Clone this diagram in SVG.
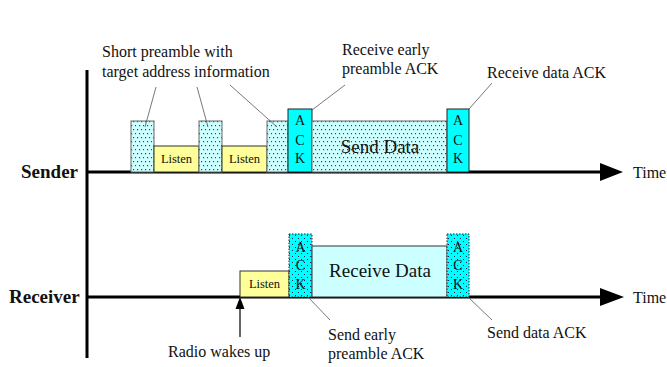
<svg xmlns="http://www.w3.org/2000/svg" width="667" height="367" viewBox="0 0 667 367">
  <style>
    text { font-family: "Liberation Serif", "Times New Roman", "DejaVu Serif", serif; fill: #111; }
    .lbl { font-size: 16px; }
    .axis-name { font-size: 19px; font-weight: bold; }
    .time { font-size: 16px; }
    .ack { font-size: 14px; text-anchor: middle; }
    .big { font-size: 19px; text-anchor: middle; }
    .small { font-size: 12.5px; text-anchor: middle; }
    .axis { stroke: #000; stroke-width: 3; fill: none; }
    .lead { stroke: #555; stroke-width: 0.8; fill: none; }
    .pre { fill: url(#dots); stroke: #666; stroke-width: 1; }
    .listen { fill: #ffff99; stroke: #333; stroke-width: 1; }
    .ackS { fill: #00ffff; stroke: #222; stroke-width: 1; }
    .ackR { fill: url(#dotsCyan); stroke: #222; stroke-width: 1; stroke-dasharray: 1.5 1.5; }
    .data { fill: #ccffff; stroke: #333; stroke-width: 1; }
  </style>
  <defs>
    <!-- staggered dot fill for preambles and outgoing data -->
    <pattern id="dots" width="8" height="8" patternUnits="userSpaceOnUse">
      <rect width="8" height="8" fill="#ccffff"/>
      <rect x="1" y="1" width="1.2" height="1.2" fill="#444"/>
      <rect x="5" y="1" width="1.2" height="1.2" fill="#444"/>
      <rect x="3" y="5" width="1.2" height="1.2" fill="#444"/>
      <rect x="7" y="5" width="1.2" height="1.2" fill="#444"/>
    </pattern>
    <pattern id="dotsCyan" width="6" height="6" patternUnits="userSpaceOnUse">
      <rect width="6" height="6" fill="#00ffff"/>
      <rect x="1" y="1" width="1" height="1" fill="#225"/>
      <rect x="4" y="4" width="1" height="1" fill="#225"/>
    </pattern>
  </defs>

  <!-- time axes -->
  <g id="axes">
    <line class="axis" x1="87" y1="70" x2="87" y2="358"/>
    <line class="axis" x1="87" y1="172" x2="602" y2="172"/>
    <polygon points="600,163 623,172 600,181" fill="#000"/>
    <line class="axis" x1="87" y1="297" x2="602" y2="297"/>
    <polygon points="600,288 624,297 600,306" fill="#000"/>
    <text class="axis-name" x="21" y="178">Sender</text>
    <text class="axis-name" x="9" y="303">Receiver</text>
    <text class="time" x="633" y="178">Time</text>
    <text class="time" x="633" y="303">Time</text>
  </g>

  <!-- sender timeline -->
  <g id="sender-preamble-1"><rect class="pre" x="131" y="121" width="23" height="51"/></g>
  <g id="sender-listen-1">
    <rect class="listen" x="154" y="146" width="45" height="26"/>
    <text class="small" x="176.5" y="163">Listen</text>
  </g>
  <g id="sender-preamble-2"><rect class="pre" x="199" y="121" width="23" height="51"/></g>
  <g id="sender-listen-2">
    <rect class="listen" x="222" y="146" width="45" height="26"/>
    <text class="small" x="244.5" y="163">Listen</text>
  </g>
  <g id="sender-preamble-3"><rect class="pre" x="267" y="121" width="21" height="51"/></g>
  <g id="sender-ack-1">
    <rect class="ackS" x="288" y="109" width="24" height="63"/>
    <text class="ack" x="300" y="125">A</text>
    <text class="ack" x="300" y="145">C</text>
    <text class="ack" x="300" y="163">K</text>
  </g>
  <g id="send-data">
    <rect class="pre" x="312" y="121" width="135" height="51"/>
    <text class="big" x="380" y="153">Send Data</text>
  </g>
  <g id="sender-ack-2">
    <rect class="ackS" x="447" y="109" width="22" height="63"/>
    <text class="ack" x="458" y="125">A</text>
    <text class="ack" x="458" y="145">C</text>
    <text class="ack" x="458" y="163">K</text>
  </g>

  <!-- receiver timeline -->
  <g id="receiver-listen">
    <rect class="listen" x="240" y="271" width="49" height="26"/>
    <text class="small" x="264.5" y="288">Listen</text>
  </g>
  <g id="receiver-ack-1">
    <rect class="ackR" x="289" y="234" width="23" height="63"/>
    <text class="ack" x="300.5" y="252">A</text>
    <text class="ack" x="300.5" y="270">C</text>
    <text class="ack" x="300.5" y="289">K</text>
  </g>
  <g id="receive-data">
    <rect class="data" x="312" y="246" width="135" height="51"/>
    <text class="big" x="380" y="277">Receive Data</text>
  </g>
  <g id="receiver-ack-2">
    <rect class="ackR" x="447" y="234" width="22" height="63"/>
    <text class="ack" x="458" y="252">A</text>
    <text class="ack" x="458" y="270">C</text>
    <text class="ack" x="458" y="289">K</text>
  </g>

  <!-- annotations -->
  <g id="note-preamble">
    <text class="lbl" x="102" y="57">Short preamble with</text>
    <text class="lbl" x="102" y="77">target address information</text>
  </g>
  <g id="note-recv-early-ack">
    <text class="lbl" x="342" y="55">Receive early</text>
    <text class="lbl" x="342" y="74">preamble ACK</text>
  </g>
  <g id="note-recv-data-ack">
    <text class="lbl" x="487" y="78">Receive data ACK</text>
  </g>
  <g id="note-wake">
    <text class="lbl" x="168" y="357">Radio wakes up</text>
  </g>
  <g id="note-send-early-ack">
    <text class="lbl" x="328" y="340">Send early</text>
    <text class="lbl" x="328" y="359">preamble ACK</text>
  </g>
  <g id="note-send-data-ack">
    <text class="lbl" x="487" y="338">Send data ACK</text>
  </g>

  <!-- leader lines and the wake-up arrow -->
  <g id="connectors">
    <line class="lead" x1="156" y1="87" x2="145" y2="127"/>
    <line class="lead" x1="197" y1="87" x2="208" y2="127"/>
    <line class="lead" x1="230" y1="85" x2="277" y2="127"/>
    <line class="lead" x1="345" y1="85" x2="312" y2="110"/>
    <line class="lead" x1="492" y1="83" x2="469" y2="109"/>
    <line class="lead" x1="308" y1="297" x2="330" y2="320"/>
    <line class="lead" x1="468" y1="297" x2="492" y2="320"/>
    <line x1="240" y1="337" x2="240" y2="305" stroke="#000" stroke-width="1.2"/>
    <polygon points="240,297 244.5,309 235.5,309" fill="#000"/>
  </g>
</svg>
